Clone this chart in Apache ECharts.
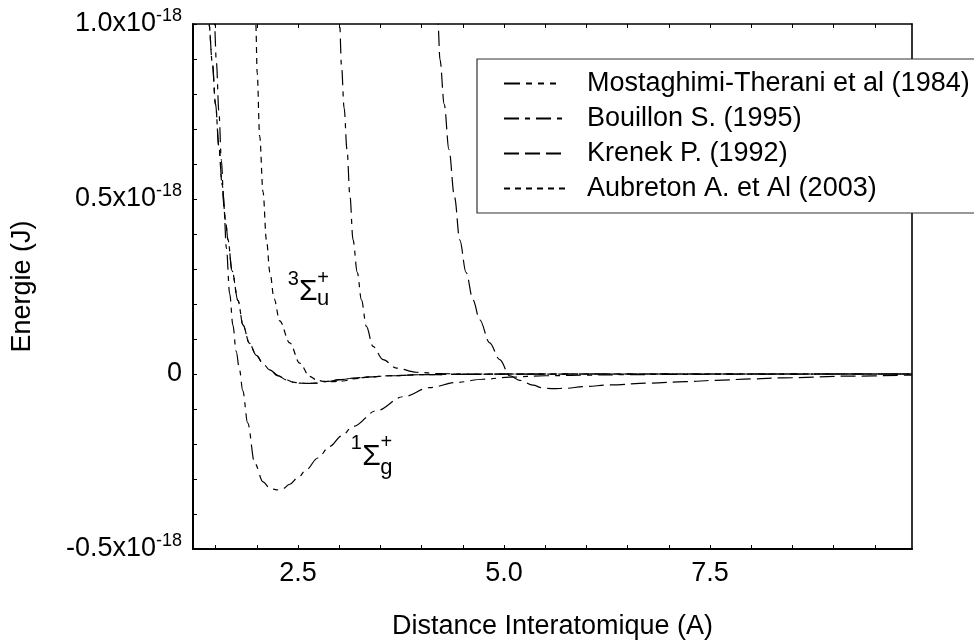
<!DOCTYPE html>
<html><head><meta charset="utf-8">
<script src="https://cdn.jsdelivr.net/npm/echarts@6/dist/echarts.min.js"></script>
<style>html,body{margin:0;padding:0;background:#fff}#c{width:974px;height:643px}</style>
</head><body><div id="c"></div>
<script>
const FONT = '"Liberation Sans", Arial, Helvetica, sans-serif';

// ---- legend names ----
const seriesNames = ['Mostaghimi-Therani et al (1984)', 'Bouillon S. (1995)', 'Krenek P. (1992)', 'Aubreton A. et Al (2003)'];

// ---- curves (distance in Angstrom, energy in 1e-18 J) ----
// deep singlet well 1Σg+
const distSinglet = [1.470, 1.486, 1.510, 1.540, 1.571, 1.600, 1.631, 1.671, 1.710, 1.750, 1.790, 1.830, 1.890, 1.975, 2.076, 2.160, 2.245, 2.320, 2.400, 2.500, 2.602, 2.740, 2.885, 3.030, 3.168, 3.452, 3.775, 4.099, 4.423, 4.745, 5.070, 5.500, 6.000, 6.500, 7.000, 8.000, 9.000, 9.950];
const energySinglet = [1.070, 1.000, 0.890, 0.750, 0.610, 0.480, 0.360, 0.230, 0.140, 0.065, 0.012, -0.048, -0.140, -0.255, -0.308, -0.327, -0.331, -0.327, -0.315, -0.296, -0.273, -0.240, -0.207, -0.177, -0.150, -0.105, -0.065, -0.039, -0.024, -0.015, -0.009, -0.005, -0.003, -0.002, -0.001, -0.0005, 0, 0];

// triplet 3Σu+ (leftmost wall)
const distTripletM = [1.400, 1.420, 1.460, 1.500, 1.540, 1.580, 1.620, 1.651, 1.700, 1.772, 1.833, 1.910, 1.995, 2.080, 2.157, 2.260, 2.360, 2.440, 2.521, 2.620, 2.724, 2.860, 3.007, 3.210, 3.400, 3.613, 4.017, 4.500, 5.000, 6.000, 7.000, 8.000, 9.000, 9.950];
const energyTripletM = [1.060, 1.000, 0.890, 0.770, 0.650, 0.540, 0.440, 0.383, 0.295, 0.210, 0.140, 0.088, 0.053, 0.028, 0.012, -0.005, -0.017, -0.023, -0.026, -0.027, -0.026, -0.021, -0.016, -0.011, -0.008, -0.005, -0.002, -0.001, -0.0005, 0, 0, 0, 0, 0];

// triplet 3Σu+ (second wall)
const distTripletA = [1.980, 1.988, 2.005, 2.035, 2.076, 2.117, 2.160, 2.210, 2.278, 2.400, 2.521, 2.642, 2.720, 2.804, 2.920, 3.046, 3.200, 3.400, 3.600, 4.000, 4.500, 5.000, 6.000, 8.000, 9.950];
const energyTripletA = [1.060, 1.000, 0.860, 0.680, 0.520, 0.383, 0.290, 0.215, 0.152, 0.089, 0.031, -0.007, -0.016, -0.021, -0.022, -0.020, -0.013, -0.008, -0.005, -0.002, -0.001, 0, 0, 0, 0];

// repulsive curve near 3 A
const distRepulsive = [2.995, 3.006, 3.027, 3.060, 3.095, 3.130, 3.168, 3.220, 3.270, 3.330, 3.410, 3.532, 3.694, 3.937, 4.220, 4.600, 5.000, 6.000, 8.000, 9.950];
const energyRepulsive = [1.050, 1.000, 0.884, 0.760, 0.641, 0.510, 0.383, 0.290, 0.212, 0.136, 0.079, 0.041, 0.017, 0.005, 0.001, 0, 0, 0, 0, 0];

// Krenek curve near 4.2-5 A
const distKrenek = [4.190, 4.199, 4.223, 4.275, 4.332, 4.400, 4.463, 4.540, 4.624, 4.705, 4.826, 4.948, 5.070, 5.191, 5.352, 5.470, 5.600, 5.750, 5.959, 6.300, 6.770, 7.200, 7.578, 8.000, 8.386, 9.196, 9.950];
const energyKrenek = [1.040, 1.000, 0.898, 0.770, 0.641, 0.505, 0.383, 0.290, 0.212, 0.155, 0.089, 0.041, -0.005, -0.018, -0.032, -0.040, -0.042, -0.041, -0.036, -0.031, -0.026, -0.022, -0.018, -0.014, -0.011, -0.006, -0.003];

// ---- ticks ----
const xTickValues = [1.5, 2.0, 2.5, 3.0, 3.5, 4.0, 4.5, 5.0, 5.5, 6.0, 6.5, 7.0, 7.5, 8.0, 8.5, 9.0, 9.5];
const xLabelValues = [2.5, 5.0, 7.5];
const yTickValues = [-0.5, -0.4, -0.3, -0.2, -0.1, 0, 0.1, 0.2, 0.3, 0.4, 0.5, 0.6, 0.7, 0.8, 0.9, 1.0];
const xRange = [1.226, 9.951];
const yRange = [-0.5, 1.0];

// state labels (data coordinates of the Σ)
const stateLabels = [
  { x: 2.624, y: 0.234, pre: '3', sub: 'u', subDy: 7 },
  { x: 3.391, y: -0.236, pre: '1', sub: 'g', subDy: 11 }
];

const zip = (xs, ys) => xs.map((x, i) => [x, ys[i]]);

const dashM = [16, 6, 6, 6, 6, 6, 6, 11];
const dashB = [15, 6, 5, 6];
const dashK = [15, 6];
const dashA = [6, 5];

function line(name, xs, ys, dash, extra) {
  return Object.assign({
    type: 'line', name: name, data: zip(xs, ys),
    symbol: 'none', smooth: 0.35, smoothMonotone: 'x',
    lineStyle: { color: '#000', width: 1.2, type: dash },
    itemStyle: { color: '#000' },
    z: 3, silent: true
  }, extra || {});
}

const markData = [];
stateLabels.forEach(s => {
  const base = { coord: [s.x, s.y], symbolSize: 0 };
  markData.push(Object.assign({}, base, { label: { formatter: 'Σ', fontSize: 30, offset: [0, 0] } }));
  markData.push(Object.assign({}, base, { label: { formatter: s.pre, fontSize: 20, offset: [-15, -13] } }));
  markData.push(Object.assign({}, base, { label: { formatter: '+', fontSize: 20, offset: [15, -14] } }));
  markData.push(Object.assign({}, base, { label: { formatter: s.sub, fontSize: 22, offset: [15, s.subDy] } }));
});

const yFmt = v => {
  if (Math.abs(v) < 1e-9) return '{m|0}';
  return '{m|' + v.toFixed(1) + 'x10}{s|-18}';
};

const option = {
  animation: false,
  backgroundColor: '#fff',
  textStyle: { fontFamily: FONT, color: '#000' },
  grid: { left: 193, right: 62, top: 24, bottom: 94, containLabel: false, outerBoundsMode: 'none' },
  legend: {
    left: 477, top: 59, orient: 'vertical',
    itemWidth: 63, itemHeight: 14, itemGap: 8,
    padding: [11, 40, 11, 26],
    backgroundColor: '#fff', borderColor: '#333', borderWidth: 1.2, borderRadius: 0,
    itemStyle: { color: 'rgba(0,0,0,0)', borderColor: 'rgba(0,0,0,0)', borderWidth: 0 },
    textStyle: { fontFamily: FONT, fontSize: 27, color: '#000', lineHeight: 26, padding: [0, 0, 0, 15] },
    data: seriesNames, selectedMode: false, z: 10
  },
  xAxis: [{
    type: 'value', min: xRange[0], max: xRange[1], position: 'bottom',
    name: 'Distance Interatomique (A)', nameLocation: 'middle', nameGap: 64,
    nameTextStyle: { fontFamily: FONT, fontSize: 27, color: '#000' },
    axisLine: { show: true, onZero: false, lineStyle: { color: '#000', width: 2 } },
    axisTick: { show: true, inside: true, length: 4, customValues: xTickValues, lineStyle: { color: '#000', width: 1 } },
    axisLabel: { show: true, customValues: xLabelValues, margin: 11, fontFamily: FONT, fontSize: 27, color: '#000', formatter: v => v.toFixed(1) },
    splitLine: { show: false }
  }, {
    type: 'value', min: xRange[0], max: xRange[1], position: 'top',
    axisLine: { show: true, onZero: false, lineStyle: { color: '#000', width: 1.6 } },
    axisTick: { show: true, inside: true, length: 4, customValues: xTickValues, lineStyle: { color: '#000', width: 1 } },
    axisLabel: { show: false }, splitLine: { show: false }
  }],
  yAxis: [{
    type: 'value', min: yRange[0], max: yRange[1], interval: 0.5, position: 'left',
    name: 'Energie (J)', nameLocation: 'middle', nameGap: 157,
    nameTextStyle: { fontFamily: FONT, fontSize: 27, color: '#000' },
    axisLine: { show: true, onZero: false, lineStyle: { color: '#000', width: 2 } },
    axisTick: { show: true, inside: true, length: 4, customValues: yTickValues, lineStyle: { color: '#000', width: 1 } },
    axisLabel: {
      show: true, margin: 11, formatter: yFmt,
      rich: {
        m: { fontFamily: FONT, fontSize: 27, color: '#000', lineHeight: 34, verticalAlign: 'middle' },
        s: { fontFamily: FONT, fontSize: 18, color: '#000', lineHeight: 15, verticalAlign: 'top' }
      }
    },
    splitLine: { show: false }
  }, {
    type: 'value', min: yRange[0], max: yRange[1], interval: 0.5, position: 'right',
    axisLine: { show: true, onZero: false, lineStyle: { color: '#000', width: 1.6 } },
    axisTick: { show: false }, axisLabel: { show: false }, splitLine: { show: false }
  }],
  series: [
    line(seriesNames[0], distTripletM, energyTripletM, dashM, {
      markPoint: {
        symbol: 'circle', symbolSize: 0, silent: true, animation: false,
        itemStyle: { color: 'rgba(0,0,0,0)' },
        label: { show: true, position: 'inside', color: '#000', fontFamily: FONT },
        data: markData
      }
    }),
    line(seriesNames[1], distSinglet, energySinglet, dashB),
    line(seriesNames[2], distKrenek, energyKrenek, dashK),
    line(seriesNames[3], distTripletA, energyTripletA, dashA),
    line(seriesNames[1], distTripletM, energyTripletM, dashB),
    line(seriesNames[1], distRepulsive, energyRepulsive, dashB)
  ]
};

const chart = echarts.init(document.getElementById('c'), null, { renderer: 'canvas' });
chart.setOption(option);
</script>
</body></html>
